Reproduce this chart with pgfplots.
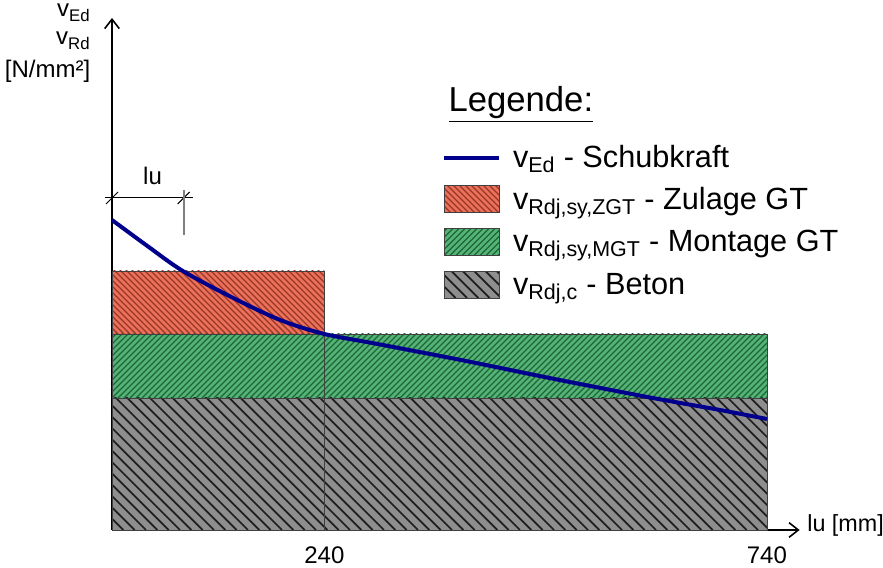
\documentclass[border=0pt]{standalone}
\usepackage{fontspec}
\setmainfont{Liberation Sans}
\usepackage{pgfplots}
\pgfplotsset{compat=1.18}
\usetikzlibrary{arrows.meta}

\definecolor{zgt}{RGB}{236,112,90}
\definecolor{zgtline}{RGB}{150,55,40}
\definecolor{mgt}{RGB}{84,180,116}
\definecolor{mgtline}{RGB}{30,100,60}
\definecolor{beton}{RGB}{142,142,142}
\definecolor{betonline}{RGB}{30,30,30}
\definecolor{ved}{RGB}{0,0,140}

% Legendensymbole mit Schraffur
\pgfplotsset{
  rotlegende/.style={legend image code/.code={
    \begin{scope}\clip (0pt,-10pt) rectangle (41pt,10pt);
      \fill[fill=zgt] (0pt,-10pt) rectangle (41pt,10pt);
      \draw[draw=zgtline, fill=none, line width=0.9pt] \foreach \k in {0,...,15} {(\k*4.5pt,-10pt) -- ++(-22pt,22pt)};
    \end{scope}
    \draw[draw=black!75, fill=none, line width=0.6pt] (0pt,-10pt) rectangle (41pt,10pt);}},
  gruenlegende/.style={legend image code/.code={
    \begin{scope}\clip (0pt,-10pt) rectangle (41pt,10pt);
      \fill[fill=mgt] (0pt,-10pt) rectangle (41pt,10pt);
      \draw[draw=mgtline, fill=none, line width=0.9pt] \foreach \k in {-6,...,10} {(\k*4.5pt,-10pt) -- ++(22pt,22pt)};
    \end{scope}
    \draw[draw=black!75, fill=none, line width=0.6pt] (0pt,-10pt) rectangle (41pt,10pt);}},
  graulegende/.style={legend image code/.code={
    \begin{scope}\clip (0pt,-10pt) rectangle (41pt,10pt);
      \fill[fill=beton] (0pt,-10pt) rectangle (41pt,10pt);
      \draw[draw=betonline, fill=none, line width=1.3pt] \foreach \k in {0,...,8} {(\k*8.5pt,-10pt) -- ++(-22pt,22pt)};
    \end{scope}
    \draw[draw=black!75, fill=none, line width=0.6pt] (0pt,-10pt) rectangle (41pt,10pt);}},
  linienlegende/.style={legend image code/.code={\draw[##1] (0pt,0pt) -- (41pt,0pt);}},
}

\begin{document}
\begin{tikzpicture}
\useasboundingbox (-84pt,-28.5pt) rectangle (578.25pt,397.5pt);
\begin{axis}[
  anchor=origin, at={(0pt,0pt)},
  x=0.66375pt, y=75pt,
  xmin=0, xmax=777, ymin=0, ymax=5.12,
  axis lines=left,
  axis line style={line width=1.2pt, -{Straight Barb[length=7pt,width=11pt,line width=1.2pt]}},
  xtick={240,740}, xticklabels={240,740}, ytick=\empty,
  major tick length=0pt,
  xticklabel style={font=\fontsize{18}{21}\selectfont, anchor=base, inner sep=0pt, yshift=-25.5pt},
  clip=false,
  reverse legend,
  legend cell align=left,
  legend style={draw=none, fill=none, at={(0.48,0.751)}, anchor=north west,
    inner sep=0pt, row sep=11.5pt, column sep=9pt,
    font=\fontsize{23}{26}\selectfont, nodes={inner sep=0pt}},
]
% Beton
\addplot[draw=none, fill=beton, graulegende]
  coordinates {(0,0) (0,1.32) (740,1.32) (740,0)} -- cycle;
\addlegendentry{v\textsubscript{Rdj,c} - Beton}
% Montage GT
\addplot[draw=none, fill=mgt, gruenlegende]
  coordinates {(0,1.32) (0,1.96) (740,1.96) (740,1.32)} -- cycle;
\addlegendentry{v\textsubscript{Rdj,sy,MGT} - Montage GT}
% Zulage GT
\addplot[draw=none, fill=zgt, rotlegende]
  coordinates {(0,1.96) (0,2.59) (240,2.59) (240,1.96)} -- cycle;
\addlegendentry{v\textsubscript{Rdj,sy,ZGT} - Zulage GT}

% Schraffuren
\begin{scope}
  \clip (axis cs:0,0) rectangle (axis cs:740,1.32);
  \draw[betonline, line width=1.3pt] \foreach \i in {0,...,70} {([xshift=\i*8.5pt]axis cs:0,0) -- ++(-101pt,101pt)};
\end{scope}
\begin{scope}
  \clip (axis cs:0,1.32) rectangle (axis cs:740,1.96);
  \draw[mgtline, line width=0.9pt] \foreach \i in {-11,...,110} {([xshift=\i*4.5pt]axis cs:0,1.32) -- ++(50pt,50pt)};
\end{scope}
\begin{scope}
  \clip (axis cs:0,1.96) rectangle (axis cs:240,2.59);
  \draw[zgtline, line width=0.9pt] \foreach \i in {0,...,47} {([xshift=\i*4.5pt]axis cs:0,1.96) -- ++(-50pt,50pt)};
\end{scope}
\draw[black!75, line width=0.6pt] (axis cs:0,0) rectangle (axis cs:740,1.32);
\draw[black!75, line width=0.6pt] (axis cs:0,1.32) rectangle (axis cs:740,1.96);
\draw[black!75, line width=0.6pt] (axis cs:0,1.96) rectangle (axis cs:240,2.59);
\draw[black!75, line width=0.6pt] (axis cs:240,0) -- (axis cs:240,1.96);

% Schubkraft
\addplot[ved, line width=3pt, smooth, tension=0.5, linienlegende]
  coordinates {(0,3.10) (40,2.84) (80,2.59) (137,2.32) (190,2.10) (240,1.96)
               (300,1.86) (400,1.69) (500,1.51) (611,1.32) (687,1.20) (740,1.11)};
\addlegendentry{v\textsubscript{Ed} - Schubkraft}

% Masslinie lu
\draw[line width=0.75pt] (axis cs:-8,3.32) -- (axis cs:91.5,3.32);
\draw[line width=0.75pt] ([shift={(-4.5pt,-4.5pt)}]axis cs:0,3.32) -- ++(9pt,9pt);
\draw[line width=0.75pt] ([shift={(-4.5pt,-4.5pt)}]axis cs:81,3.32) -- ++(9pt,9pt);
\draw[gray, line width=1.5pt] (axis cs:81,3.40) -- (axis cs:81,2.95);
\node[anchor=base, font=\fontsize{18}{21}\selectfont] at (axis cs:45.8,3.45) {lu};

% Achsbeschriftungen
\node[anchor=base east, font=\fontsize{18}{21}\selectfont] at (axis cs:-19.2,5.13) {v\textsubscript{Ed}};
\node[anchor=base east, font=\fontsize{18}{21}\selectfont] at (axis cs:-19.2,4.85) {v\textsubscript{Rd}};
\node[anchor=base east, font=\fontsize{18}{21}\selectfont] at (axis cs:-19.2,4.52) {[N/mm²]};
\node[anchor=base west, font=\fontsize{17.5}{20}\selectfont, xshift=2.25pt, yshift=-1.5pt] at (axis cs:777,0) {lu [mm]};

\node[anchor=base, font=\fontsize{26}{30}\selectfont] at (axis cs:462,4.18) {\underline{Legende:}};
\end{axis}
\end{tikzpicture}
\end{document}
